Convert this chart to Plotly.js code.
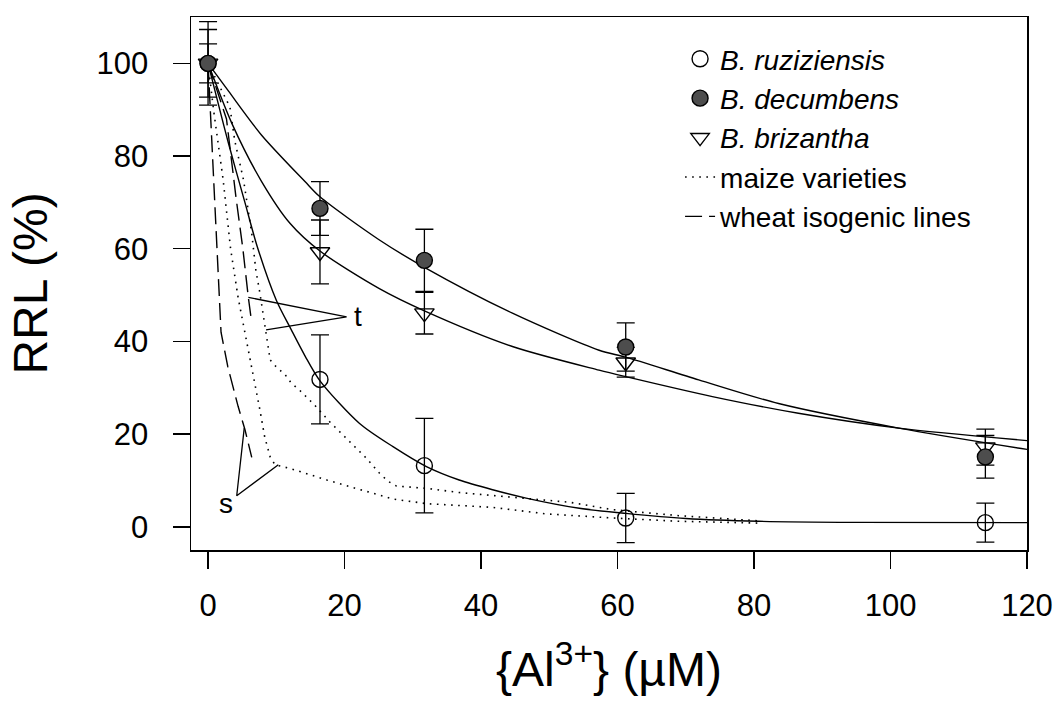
<!DOCTYPE html>
<html>
<head>
<meta charset="utf-8">
<script src="https://cdn.plot.ly/plotly-3.0.1.min.js"></script>
<style>html,body{margin:0;padding:0;background:#fff;}#chart{width:1060px;height:704px;}</style>
</head>
<body>
<div id="chart"></div>
<script>
// ---- measured data (x = {Al3+} µM, y = RRL %) ----
const concX = [0, 16.4, 31.7, 61.2, 113.9];

const ruzY   = [100, 31.8, 13.2, 1.9, 0.9];
const ruzErr = [7.3, 9.6, 10.2, 5.3, 4.2];
const decY   = [100, 68.7, 57.5, 38.8, 15.1];
const decErr = [9.0, 5.8, 6.7, 5.2, 4.6];
const brizY  = [100, 59.3, 46.1, 35.5, 17.2];
const brizErr= [4.2, 6.9, 4.5, 3.2, 3.9];

// fitted curves
const ruzFitX = [0, 3, 5.4, 7.2, 10, 12.2, 14.2, 16.4, 22.2, 27.1, 32, 36.8, 41.7, 46.6, 54.4, 61.2, 70, 80.7, 95, 120];
const ruzFitY = [100, 82.7, 70, 60.5, 48.9, 42.5, 36.9, 31.5, 22.3, 17.3, 13, 10.1, 8, 6.2, 4.0, 2.9, 1.8, 1.2, 0.95, 0.9];
const decFitX = [0, 3, 7.85, 14.2, 16.4, 25, 31.7, 44.6, 57.3, 61.2, 71.9, 83.6, 101.2, 120];
const decFitY = [100, 94, 84.5, 74.5, 71.2, 62, 56, 46.1, 38.1, 36.6, 31.7, 26.6, 21.3, 16.7];
const brizFitX = [0, 3.5, 7.85, 12, 16.4, 25.1, 31.7, 44.6, 57.3, 61.2, 73.9, 86.5, 101.2, 120];
const brizFitY = [100, 87, 74.5, 65.5, 59.5, 51.4, 46.6, 38.9, 33.8, 32.4, 28.1, 24.5, 21.3, 18.6];

// maize varieties (dotted)
const maizeSX = [0, 0.8, 2.2, 3.3, 4.4, 5.4, 6.0, 6.9, 7.6, 8.3, 9.1, 9.8, 12, 17.4, 22.2, 27.1, 32, 41.7, 49.5, 59.3, 69, 80.7];
const maizeSY = [100, 90, 75, 60, 49.5, 42, 38, 31, 25.2, 19.4, 15.1, 13.4, 12.6, 10.1, 8, 6, 5, 4.2, 2.8, 1.9, 1.2, 0.8];
const maizeTX = [0, 3.2, 3.9, 5.2, 6.4, 7.0, 7.6, 8.2, 8.6, 9.1, 10, 11.3, 12.2, 13.4, 15.6, 17.8, 21, 23.2, 25.1, 26.4, 27.6, 32, 36.8, 46.6, 53, 59.3, 69, 80.7];
const maizeTY = [100, 90.6, 83.4, 74.8, 63.3, 55.4, 50.4, 44.2, 41, 36, 34.5, 32.8, 31, 29.5, 26.3, 22.7, 18, 14.8, 11.6, 9.8, 8.8, 8.3, 7.4, 6.2, 5.3, 3.7, 2.4, 1.3];

// wheat isogenic lines (dashed)
const wheatSX = [0, 1.0, 1.9, 2.9, 4.4, 5.4, 6.4];
const wheatSY = [100, 70, 42, 34.5, 26, 21, 15];
const wheatTX = [0, 2.7, 4.1, 5.1, 5.9, 6.4];
const wheatTY = [100, 88, 71, 60, 49.5, 44];

// pointer lines for labels t and s
const tPtrX = [5.9, 20.3, 8.5];
const tPtrY = [49.5, 45.3, 42.5];
const sPtrX = [5.3, 4.2, 10.3];
const sPtrY = [21.3, 6.7, 13.4];
const labelText = ['t', 's'];
const labelX = [22.0, 2.7];
const labelY = [45.3, 5.0];

const xTicks = [0, 20, 40, 60, 80, 100, 120];
const yTicks = [0, 20, 40, 60, 80, 100];

const FONT = 'Liberation Sans, Arial, Helvetica, sans-serif';
const solid = {color: 'black', width: 1.4};
const dotted = {color: 'black', width: 1.6, dash: '1.6px,5.5px'};
const dashed = {color: 'black', width: 1.4, dash: '17px,7px'};

function curve(x, y, line, extra) {
  return Object.assign({x: x, y: y, mode: 'lines', line: line, showlegend: false, hoverinfo: 'skip'}, extra || {});
}
function errBars(arr) {
  return {type: 'data', array: arr, visible: true, color: 'black', thickness: 1.3, width: 9};
}

const traces = [
  curve(ruzFitX, ruzFitY, Object.assign({shape: 'spline', smoothing: 0.8}, solid)),
  curve(brizFitX, brizFitY, Object.assign({shape: 'spline', smoothing: 0.8}, solid)),
  curve(decFitX, decFitY, Object.assign({shape: 'spline', smoothing: 0.8}, solid)),
  curve(maizeSX, maizeSY, dotted, {showlegend: true, name: 'maize varieties', legendrank: 4, legendgroup: 'maize'}),
  curve(maizeTX, maizeTY, dotted, {legendgroup: 'maize'}),
  curve(wheatSX, wheatSY, dashed, {showlegend: true, name: 'wheat isogenic lines', legendrank: 5, legendgroup: 'wheat'}),
  curve(wheatTX, wheatTY, dashed, {legendgroup: 'wheat'}),
  curve(tPtrX, tPtrY, {color: 'black', width: 1.3}),
  curve(sPtrX, sPtrY, {color: 'black', width: 1.3}),
  {x: concX, y: ruzY, mode: 'markers', name: '<i>B. ruziziensis</i>', legendrank: 1,
   marker: {symbol: 'circle-open', size: 16, color: 'black', line: {width: 1.4, color: 'black'}},
   error_y: errBars(ruzErr)},
  {x: concX, y: brizY, mode: 'markers', name: '<i>B. brizantha</i>', legendrank: 3,
   marker: {symbol: 'triangle-down-open', size: 17, color: 'black', line: {width: 1.4, color: 'black'}},
   error_y: errBars(brizErr)},
  {x: concX, y: decY, mode: 'markers', name: '<i>B. decumbens</i>', legendrank: 2,
   marker: {symbol: 'circle', size: 16, color: '#4d4d4d', line: {width: 1.4, color: 'black'}},
   error_y: errBars(decErr)}
];

const annotations = labelText.map((t, i) => ({
  x: labelX[i], y: labelY[i], xref: 'x', yref: 'y', text: t, showarrow: false,
  font: {family: FONT, size: 28, color: 'black'}, xanchor: 'center', yanchor: 'middle'
}));

const layout = {
  width: 1060, height: 704,
  margin: {l: 191, r: 33, t: 17, b: 154, autoexpand: false},
  paper_bgcolor: 'white', plot_bgcolor: 'white',
  font: {family: FONT, color: 'black'},
  showlegend: true,
  legend: {x: 0.585, xanchor: 'left', y: 0.968, yanchor: 'top', font: {family: FONT, size: 28, color: 'black'},
           bgcolor: 'rgba(0,0,0,0)', borderwidth: 0, tracegroupgap: 0, itemclick: false},
  xaxis: {
    range: [-2.5, 120], tickmode: 'array', tickvals: xTicks, ticktext: xTicks.map(String),
    ticks: 'outside', ticklen: 17, tickwidth: 1.4, tickcolor: 'black', ticklabelstandoff: 10,
    showline: true, mirror: true, linecolor: 'black', linewidth: 1.5,
    showgrid: false, zeroline: false, tickfont: {family: FONT, size: 31, color: 'black'},
    title: {text: '{Al<sup>3+</sup>} (µM)', font: {family: FONT, size: 48, color: 'black'}, standoff: 30}
  },
  yaxis: {
    range: [-5, 110], tickmode: 'array', tickvals: yTicks, ticktext: yTicks.map(String),
    ticks: 'outside', ticklen: 17, tickwidth: 1.4, tickcolor: 'black', ticklabelstandoff: 18,
    showline: true, mirror: true, linecolor: 'black', linewidth: 1.5,
    showgrid: false, zeroline: false, tickfont: {family: FONT, size: 31, color: 'black'},
    title: {text: 'RRL (%)', font: {family: FONT, size: 48, color: 'black'}, standoff: 34}
  },
  annotations: annotations
};

Plotly.newPlot('chart', traces, layout, {staticPlot: true, displayModeBar: false});
</script>
</body>
</html>
